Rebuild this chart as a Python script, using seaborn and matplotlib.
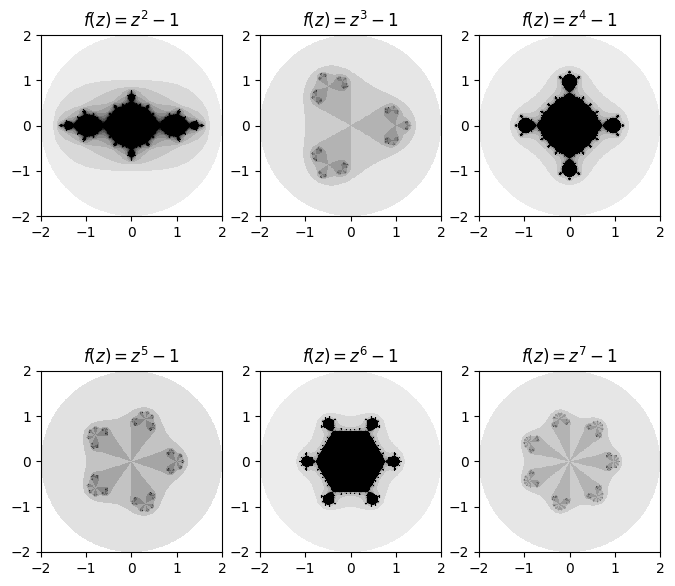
import numpy as np
import matplotlib
matplotlib.use('Agg')
import matplotlib.pyplot as plt
import seaborn as sns

powers = [2, 3, 4, 5, 6, 7]
tick_values = [-2, -1, 0, 1, 2]
tick_labels = ['\u22122', '\u22121', '0', '1', '2']
max_iter = 13
grid_size = 400
# top of the gray scale in each panel
color_tops = [13, 10, 13, 8.5, 13, 10]


def escape_counts(power):
    """Iteration count of z -> z**power - 1 before |z| goes past 2."""
    edges = (np.arange(grid_size) + 0.5) / grid_size * 4 - 2
    re, im = np.meshgrid(edges, edges[::-1])
    z = re + 1j * im
    counts = np.zeros(z.shape, dtype=int)
    alive = np.abs(z) <= 2
    for _ in range(max_iter):
        counts[alive] += 1
        z[alive] = z[alive] ** power - 1
        alive &= np.abs(z) <= 2
    return counts


fig, axes = plt.subplots(2, 3, figsize=(6.75, 5.86), dpi=100)
fig.subplots_adjust(left=41 / 675, right=660 / 675, top=1 - 35 / 586,
                    bottom=1 - 552 / 586, wspace=0.21, hspace=0.856)

for ax, power, top in zip(axes.flat, powers, color_tops):
    sns.heatmap(escape_counts(power), ax=ax, cmap='gray_r', vmin=0, vmax=top,
                cbar=False, square=True, xticklabels=False, yticklabels=False)
    ticks = [(v + 2) / 4 * grid_size for v in tick_values]
    ax.set_xticks(ticks)
    ax.set_xticklabels(tick_labels, rotation=0)
    ax.set_yticks(ticks)
    ax.set_yticklabels(tick_labels[::-1], rotation=0)
    ax.set_title(f'$f(z) = z^{power} - 1$')
    for spine in ax.spines.values():
        spine.set_visible(True)

fig.savefig('out.png', dpi=100)
